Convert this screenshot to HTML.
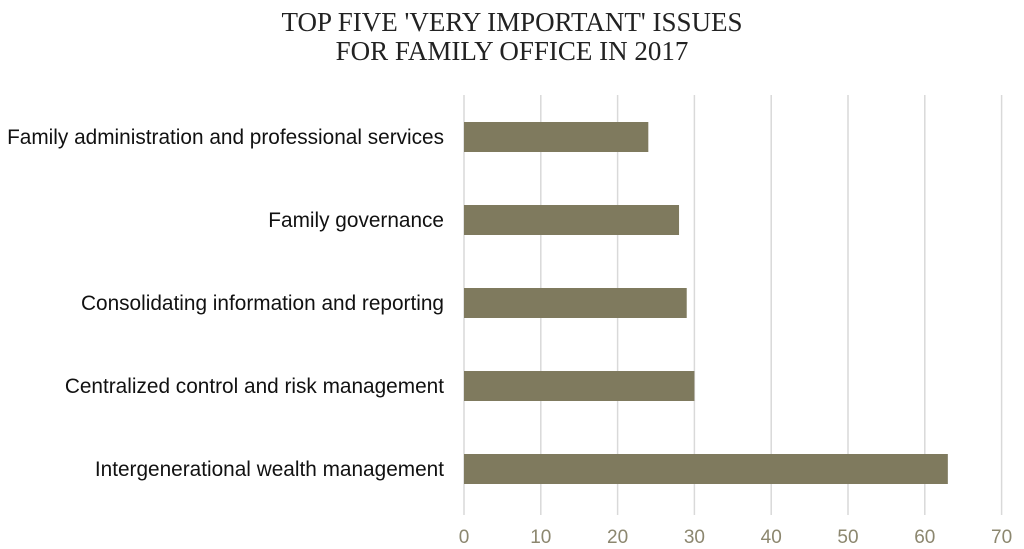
<!DOCTYPE html>
<html><head><meta charset="utf-8"><style>
html,body{margin:0;padding:0;background:#fff;}
svg{display:block;}
</style></head><body>
<svg id="chart" width="1024" height="549" xmlns="http://www.w3.org/2000/svg">
<text x="512" y="31" text-anchor="middle" font-family="Liberation Serif, serif" font-size="27" fill="#222">TOP FIVE 'VERY IMPORTANT' ISSUES</text>
<text x="512" y="60" text-anchor="middle" font-family="Liberation Serif, serif" font-size="27" fill="#222">FOR FAMILY OFFICE IN 2017</text>
<g id="grid"></g><g id="bars"></g><g id="labels"></g><g id="ticks"></g>
</svg>
<script>
const categories = ["Family administration and professional services","Family governance","Consolidating information and reporting","Centralized control and risk management","Intergenerational wealth management"];
const values = [24, 28, 29, 30, 63];
const tickValues = [0,10,20,30,40,50,60,70];
const NS="http://www.w3.org/2000/svg";
const x0=464, pxPer=7.68, yTop=95, yBot=515, rowStart=137, rowStep=83, barH=30;
const xs=v=>x0+v*pxPer;
const ys=i=>rowStart+i*rowStep;
function mk(tag,attrs,parent){const e=document.createElementNS(NS,tag);for(const k in attrs)e.setAttribute(k,attrs[k]);document.getElementById(parent).appendChild(e);return e;}
tickValues.forEach(t=>{
  const l=mk('line',{x1:xs(t),x2:xs(t),y1:yTop,y2:yBot,stroke:'#d9d9d9','stroke-width':1.5},'grid');
  
  
  const tx=mk('text',{x:xs(t),y:543,'text-anchor':'middle','font-family':'Liberation Sans, sans-serif','font-size':19,fill:'#8c876f'},'ticks');
  tx.textContent=t;
  
  
});
categories.forEach((c,i)=>{
  const r=mk('rect',{x:xs(0),y:ys(i)-barH/2,width:xs(values[i])-xs(0),height:barH,fill:'#7f7a5e'},'bars');
  
  
  const t=mk('text',{x:444,y:ys(i)+7,'text-anchor':'end','font-family':'Liberation Sans, sans-serif','font-size':20.8,fill:'#111'},'labels');
  t.textContent=c;
  
  
});
</script>
</body></html>
